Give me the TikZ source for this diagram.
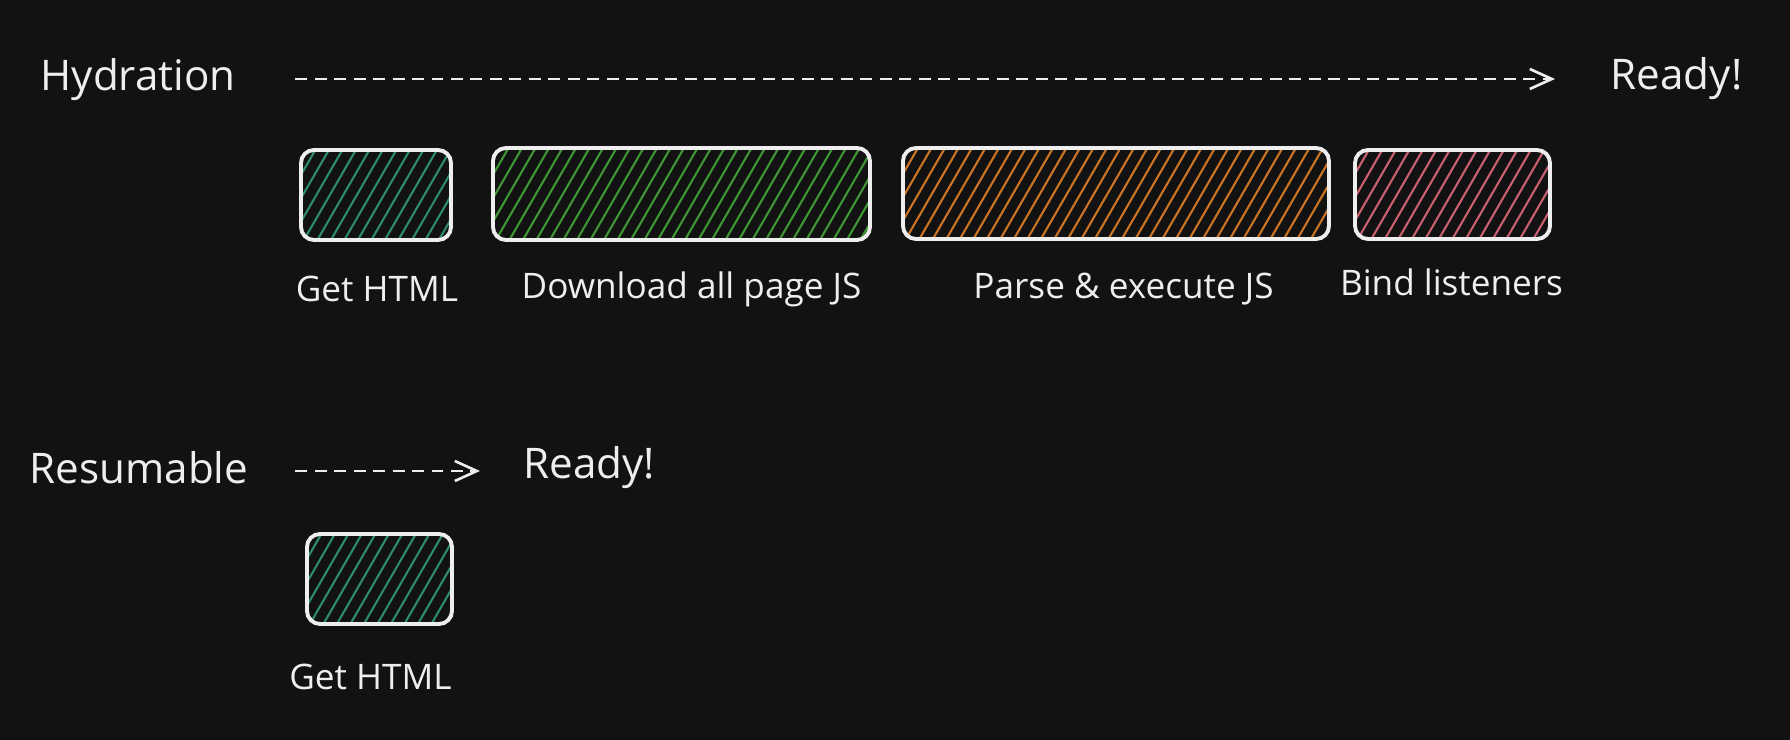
\documentclass[tikz,border=0pt]{standalone}
\usepackage{fontspec}
\setmainfont{Open Sans}
\usetikzlibrary{arrows.meta,calc}
\definecolor{bg}{RGB}{18,18,18}
\definecolor{ink}{RGB}{238,238,238}
\definecolor{hteal}{RGB}{46,140,102}
\definecolor{hgreen}{RGB}{62,150,52}
\definecolor{horange}{RGB}{202,116,36}
\definecolor{hpink}{RGB}{200,96,112}
\tikzset{
  heading/.style={text=ink, font=\fontsize{12}{14}\selectfont, inner sep=0pt, anchor=west},
  label/.style={text=ink, font=\fontsize{10}{12}\selectfont, inner sep=0pt},
  dasharrow/.style={draw=ink, line width=0.75pt, dash pattern=on 0.12cm off 0.075cm,
    -{Straight Barb[length=2.2mm,width=2mm,line width=0.75pt]}},
  hatchbox/.style={draw=ink, line width=1.1pt, rounded corners=0.13cm, inner sep=0pt,
    path picture={
        \foreach \k in {-8,...,36}
          \draw[#1, line width=0.6pt]
            ($(path picture bounding box.south west)+(\k*0.135,-0.05)$) -- ++(60:1.4);
    }}
}
\begin{document}
\begin{tikzpicture}
\fill[bg] (0,0) rectangle (17.9,-7.4);
\useasboundingbox (0,0) rectangle (17.9,-7.4);

% Hydration row
\node[heading] (hyd) at (0.40,-0.80) {Hydration};
\node[heading] (ready1) at (16.10,-0.79) {Ready!};
\coordinate (a1s) at (2.95,-0.79);
\draw[dasharrow, shorten >=0.55cm] (a1s) -- (ready1.west);

\node[hatchbox=hteal, minimum width=1.50cm, minimum height=0.90cm] (b1) at (3.76,-1.95) {};
\node[hatchbox=hgreen, minimum width=3.77cm, minimum height=0.92cm] (b2) at (6.815,-1.94) {};
\node[hatchbox=horange, minimum width=4.26cm, minimum height=0.91cm] (b3) at (11.16,-1.935) {};
\node[hatchbox=hpink, minimum width=1.95cm, minimum height=0.89cm] (b4) at (14.525,-1.945) {};

\node[label] (l1) at (3.77,-2.89) {Get HTML};
\node[label] (l2) at (6.915,-2.89) {Download all page JS};
\node[label] (l3) at (11.235,-2.89) {Parse \& execute JS};
\node[label] (l4) at (14.515,-2.82) {Bind listeners};

% Resumable row
\node[heading] (res) at (0.29,-4.68) {Resumable};
\node[heading] (ready2) at (5.23,-4.68) {Ready!};
\coordinate (a2s) at (2.95,-4.71);
\draw[dasharrow, shorten >=0.43cm] (a2s) -- (ready2.west |- a2s);

\node[hatchbox=hteal, minimum width=1.45cm, minimum height=0.90cm] (b5) at (3.795,-5.79) {};
\node[label] (l5) at (3.705,-6.77) {Get HTML};
\end{tikzpicture}
\end{document}
